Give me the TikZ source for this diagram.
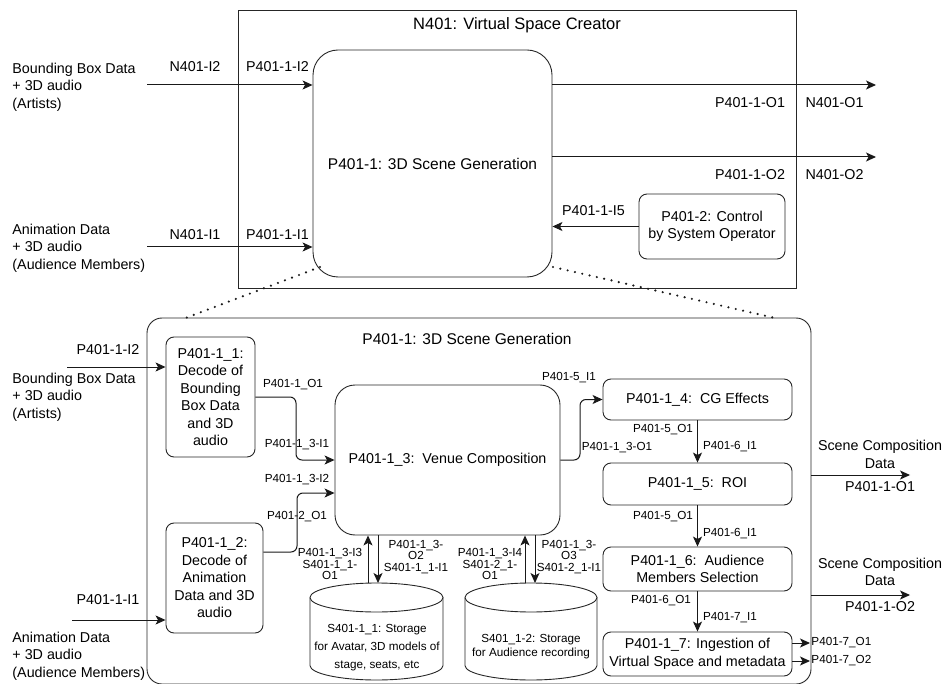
\documentclass[tikz,border=0pt]{standalone}
\usepackage{fontspec}
\setmainfont{Liberation Sans}
\usetikzlibrary{arrows.meta,positioning}
\tikzset{
  box/.style={draw=black!85, rounded corners=8pt, align=center, inner sep=0pt, font=\fontsize{14.3}{17.5}\selectfont},
  txt/.style={inner sep=0pt, align=center, font=\fontsize{14.3}{17.5}\selectfont},
  ttl/.style={inner sep=0pt, align=center, font=\fontsize{16.5}{19}\selectfont},
  sub/.style={inner sep=0pt, align=center, font=\fontsize{15.5}{18}\selectfont},
  lbl/.style={inner sep=0pt, align=center, font=\fontsize{11.7}{11.8}\selectfont},
  conn/.style={->, draw=black!90, line width=1pt},
  zoomline/.style={draw=black!90, line width=2.4pt, dash pattern=on 0pt off 7.5pt, line cap=round},
}
\begin{document}
\begin{tikzpicture}[x=1pt,y=-1pt, line width=0.9pt, >={Stealth[length=10pt,width=9pt,inset=2.5pt]}]
  \useasboundingbox (0,0) rectangle (947,684);

  \node[draw=black!85, minimum width=558, minimum height=278] (N401) at (517,149) {};
  \node[ttl] (N401t) at (517,25) {N401: Virtual Space Creator};
  \node[box, rounded corners=25pt, minimum width=239, minimum height=227, font=\fontsize{15.5}{18}\selectfont] (gen) at (432.5,163.5) {P401-1: 3D Scene Generation};
  \node[box, minimum width=146, minimum height=65] (ctrl) at (712,226.5) {P401-2: Control\\by System Operator};

  \node[txt, anchor=west, align=left] (artA) at (12,87) {Bounding Box Data\\+ 3D audio\\(Artists)};
  \node[txt, anchor=west, align=left] (audA) at (12,248) {Animation Data\\+ 3D audio\\(Audience Members)};
  \node[txt] (nI2) at (195,67) {N401-I2};
  \node[txt] (pI2) at (277.5,67) {P401-1-I2};
  \node[txt] (nI1) at (195,235) {N401-I1};
  \node[txt] (pI1) at (277.5,235) {P401-1-I1};
  \node[txt] (pO1) at (750,103) {P401-1-O1};
  \node[txt] (nO1) at (834.5,103) {N401-O1};
  \node[txt] (pO2) at (750,175) {P401-1-O2};
  \node[txt] (nO2) at (834.5,175) {N401-O2};
  \node[txt] (pI5) at (593.5,211) {P401-1-I5};

  \coordinate (inA) at (147,85);
  \coordinate (inB) at (147,247);
  \coordinate (outA) at (876,85);
  \coordinate (outB) at (876,157);
  \draw[conn] (inA) -- (inA -| gen.west);
  \draw[conn] (inB) -- (inB -| gen.west);
  \draw[conn] (outA -| gen.east) -- (outA);
  \draw[conn] (outB -| gen.east) -- (outB);
  \draw[conn] (ctrl.west) -- (ctrl.west -| gen.east);

  \coordinate (zl1) at (320,267);
  \coordinate (zl2) at (183,319);
  \coordinate (zr1) at (553,267);
  \coordinate (zr2) at (775,318);
  \draw[zoomline] (zl1) -- (zl2);
  \draw[zoomline] (zr1) -- (zr2);

  \node[draw=black!85, rounded corners=15pt, minimum width=664, minimum height=366] (det) at (479,501) {};
  \node[sub] (dett) at (467,339) {P401-1: 3D Scene Generation};

  \node[box, minimum width=89, minimum height=120] (dec1) at (210.5,397) {P401-1\_1:\\Decode of\\Bounding\\Box Data\\and 3D\\audio};
  \node[box, minimum width=97, minimum height=110] (dec2) at (214.5,578) {P401-1\_2:\\Decode of\\Animation\\Data and 3D\\audio};
  \node[box, rounded corners=20pt, minimum width=225, minimum height=150] (venue) at (447.5,460) {P401-1\_3:\ \ Venue Composition};
  \node[box, minimum width=189, minimum height=41] (cg) at (697.5,399.5) {P401-1\_4:\ \ CG Effects};
  \node[box, minimum width=189, minimum height=42] (roi) at (697.5,484) {P401-1\_5:\ \ ROI};
  \node[box, minimum width=189, minimum height=44] (aud) at (697.5,569) {P401-1\_6:\ \ Audience\\Members Selection};
  \node[box, minimum width=189, minimum height=44] (ing) at (697.5,654) {P401-1\_7: Ingestion of\\Virtual Space and metadata};

  \draw[draw=black!85] (376.5,597.5) ellipse [x radius=66.5pt, y radius=14.5pt];
  \draw[draw=black!85] (310,597.5) -- (310,665.5) arc[start angle=180, end angle=360, x radius=66.5pt, y radius=14.5pt] -- (443,597.5);
  \draw[draw=black!85] (531,597.5) ellipse [x radius=66pt, y radius=14.5pt];
  \draw[draw=black!85] (465,597.5) -- (465,665.5) arc[start angle=180, end angle=360, x radius=66pt, y radius=14.5pt] -- (597,597.5);
  \node[lbl, font=\fontsize{11.7}{18}\selectfont] (st1) at (377,648) {S401-1\_1: Storage\\for Avatar, 3D models of\\stage, seats, etc};
  \node[lbl, font=\fontsize{11.7}{14}\selectfont] (st2) at (531,647) {S401\_1-2: Storage\\for Audience recording};

  \node[txt] (dI2) at (108,350) {P401-1-I2};
  \node[txt] (dI1) at (108,600) {P401-1-I1};
  \node[txt, anchor=west, align=left] (artB) at (12,397) {Bounding Box Data\\+ 3D audio\\(Artists)};
  \node[txt, anchor=west, align=left] (audB) at (12,656) {Animation Data\\+ 3D audio\\(Audience Members)};

  \node[lbl] (l1) at (293,385) {P401-1\_O1};
  \node[lbl] (l2) at (297,445) {P401-1\_3-I1};
  \node[lbl] (l3) at (297,480) {P401-1\_3-I2};
  \node[lbl] (l4) at (297,517) {P401-2\_O1};
  \node[lbl] (l5) at (569,378) {P401-5\_I1};
  \node[lbl] (l6) at (617,448) {P401-1\_3-O1};
  \node[lbl] (l7) at (663,430) {P401-5\_O1};
  \node[lbl] (l8) at (730,447) {P401-6\_I1};
  \node[lbl] (l9) at (663,517) {P401-5\_O1};
  \node[lbl] (l10) at (730,534) {P401-6\_I1};
  \node[lbl] (l11) at (661,601) {P401-6\_O1};
  \node[lbl] (l12) at (730,618) {P401-7\_I1};
  \node[lbl, anchor=west] (l13) at (811,643) {P401-7\_O1};
  \node[lbl, anchor=west] (l14) at (811,661) {P401-7\_O2};
  \node[lbl] (l15) at (330,564) {P401-1\_3-I3\\S401-1\_1-\\O1};
  \node[lbl] (l16) at (416,557) {P401-1\_3-\\O2\\S401-1\_1-I1};
  \node[lbl] (l17) at (490,564) {P401-1\_3-I4\\S401-2\_1-\\O1};
  \node[lbl] (l18) at (569,557) {P401-1\_3-\\O3\\S401-2\_1-I1};
  \node[txt] (scA) at (880,454.5) {Scene Composition\\Data};
  \node[txt] (dO1) at (880,487) {P401-1-O1};
  \node[txt] (scB) at (880,572) {Scene Composition\\Data};
  \node[txt] (dO2) at (880,607) {P401-1-O2};

  \coordinate (dinA) at (67,367);
  \coordinate (dinB) at (72,620);
  \coordinate (doutA) at (910,475);
  \coordinate (doutB) at (910,595);
  \coordinate (s1u) at (368,583);
  \coordinate (s1d) at (378,583);
  \coordinate (s2u) at (525,583);
  \coordinate (s2d) at (535,583);
  \coordinate (ingA) at (810,643);
  \coordinate (ingB) at (810,661);

  \draw[conn] (dinA) -- (dinA -| dec1.west);
  \draw[conn] (dinB) -- (dinB -| dec2.west);
  \draw[conn, rounded corners=6pt] (dec1.east) -- (296,397) -- (296,460) -- (venue.west);
  \draw[conn, rounded corners=6pt] ([yshift=26pt]dec2.east) -- (297,552) -- (297,493) -- ([yshift=-33pt]venue.west);
  \draw[conn, rounded corners=6pt] (venue.east) -- (580,460) -- (580,399.5) -- (cg.west);
  \draw[conn] (cg.south) -- (roi.north);
  \draw[conn] (roi.south) -- (aud.north);
  \draw[conn] (aud.south) -- (ing.north);
  \draw[conn] (ingA -| ing.east) -- (ingA);
  \draw[conn] (ingB -| ing.east) -- (ingB);
  \draw[conn] (doutA -| det.east) -- (doutA);
  \draw[conn] (doutB -| det.east) -- (doutB);
  \draw[conn] (s1u) -- (s1u |- venue.south);
  \draw[conn] (s1d |- venue.south) -- (s1d);
  \draw[conn] (s2u) -- (s2u |- venue.south);
  \draw[conn] (s2d |- venue.south) -- (s2d);
\end{tikzpicture}
\end{document}
